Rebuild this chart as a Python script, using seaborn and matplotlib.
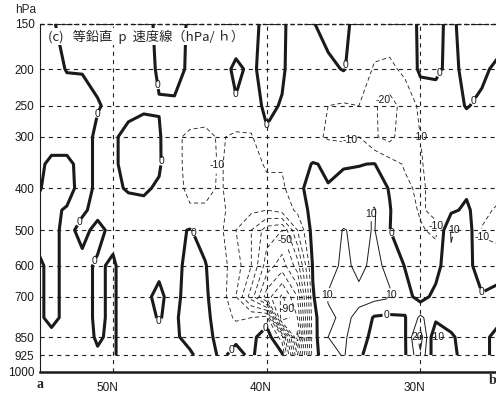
#!/usr/bin/env python3
"""
Vertical p-velocity cross-section (a-b), hPa/h
"""

import numpy as np
import seaborn as sns
import matplotlib.pyplot as plt
import matplotlib.transforms as mtransforms

# latitude of each grid column along the a-b section
lats = [55, 54, 53, 52, 51, 50, 49, 48, 47, 46, 45, 44, 43, 42, 41, 40,
        39, 38, 37, 36, 35, 34, 33, 32, 31, 30, 29, 28, 27, 26, 25]
plev = [150, 200, 250, 300, 350, 400, 450, 500, 600, 700, 775, 850, 925]

# omega (hPa/h), one list per pressure level
w150 = [3, 1, -3, -3, -3, -3, -3, -3, 2, 3, -1, -3, -3, -3, -2, 2, 1, -3, -0.5, 3, 2, -3, -5, -5, -3, 1, 1, -1, 2, 3, 3]
w200 = [3, 2, -0.3, -0.3, -1, -3, -3, -3, 1, 2, -1, -3, -2, 1, -1, 2, 1, -4, -3, -2, 0.5, -4, -11, -12, -8, 2, 1.5, -2, 2, 1, -1]
w250 = [3, 3, 3, 2, 0.3, -1, -2, -1, -0.5, -0.8, -4, -6, -7, -0.5, -3, 1.5, -0.5, -6, -8, -10, -11, -10, -19, -24, -16, -8, -4, -2, 0.3, -1, -2]
w300 = [3, 3, 3, 2, -1, -1, 2, 3, 1, -8, -12, -12, -9, -12, -11, -1, -5, -8, -8, -11, -12, -10, -19, -23, -14, -10, -6, -4, -3, -3, -3]
w350 = [2, -1.5, -1.5, 2, -1, -1, 2, 3, 1, -7, -13, -13, -9, -15, -13, -9, -9, -4, 0.5, -1, -0.5, -0.3, 0.3, -6, -11, -11, -5, -3, -2, -3, -3]
w400 = [1, -2, -2, 2, -1, -1, 0.5, 1, -1, -7, -12, -12, -9, -15, -14, -12, -12, -2, 3, 0.3, 2, 3, 4, -0.5, -8, -12, -6, -3, -2, -4, -4]
w450 = [-1, -1, 0.5, 0.5, -1, -1, -2, -2, -2, -5, -9, -9, -8, -14, -18, -20, -16, -8, 4, 4, 5, 6, 11, 0.5, -6, -11, -8, -2, 2, -6, -12]
w500 = [-1, -1, 1, -1, 1, -1, -2, -2, -2, -2, 0.5, -3, -8, -20, -30, -45, -50, -20, 4, 5, 10.5, 8, 10.5, 0.3, -8, -9, -12, 11, 6, -11, -14]
w600 = [1, -1, 1, 1, -0.5, 0.5, -2, -1, -1, -2, 2, 0.5, -6, -15, -30, -55, -65, -45, 1, 6, 12, 8, 12, 8, -0.5, -6, -4, 8, 4, -6, -3]
w700 = [1, -1, 1, 1, -0.5, 0.5, -2, -1, 1, -2, 3, 1, -4, -20, -45, -75, -92, -70, -1, 11, 14, 12, 13, 11, 4, -4, 3, 6, 1, 1, 2]
w775 = [1, -1, 1, 1, -0.5, 0.5, -2, -1, 0.2, -1, 3, 1.5, -3, -12, -10, -5, -100, -80, -3, 8, 12, 8, -1, -2, -0.5, 12, 3, 3, 1, 1, 1]
w850 = [1, 1, 1, 1, -0.3, 0.5, -2, -1, -1, -1, 2, 2, -2, -1, -3, 6, -15, -95, -4, 10, 12, 3, -2, -3, -1, 25, -11, -1, 3, 1, -1]
w925 = [1, 1, 1, 1, 0.3, 0.5, -2, -1, -1, -2, -1, 3, -1, 1.5, -1, 4, 2, -70, -3, 5, 11, 1, -3, -4, -1, 18, -8, -2, 3, 1, -1]

ytick_vals = [150, 200, 250, 300, 400, 500, 600, 700, 850, 925, 1000]
xtick_vals = [50, 40, 30]
xtick_labels = ['50N', '40N', '30N']
title = '(c)   等鉛直  p  速度線（hPa/ ｈ）'


def to_h(p):
    # standard-atmosphere height-like coordinate
    return np.power(np.clip(p, 1.0, None) / 1013.25, 0.1903)


def from_h(h):
    return 1013.25 * np.power(np.clip(h, 1e-6, None), 1 / 0.1903)


def label(ax, cs, spots):
    texts = ax.clabel(cs, manual=spots, fmt='%d', fontsize=7.5, inline=True, inline_spacing=1)
    for t in texts:
        t.set_rotation(0)


def main():
    sns.set_theme(style='white')
    plt.rcParams['font.family'] = ['Liberation Sans', 'DejaVu Sans']
    plt.rcParams['lines.scale_dashes'] = False
    plt.rcParams['lines.dashed_pattern'] = [3, 2]

    W = np.array([w150, w200, w250, w300, w350, w400, w450,
                  w500, w600, w700, w775, w850, w925])

    fig = plt.figure(figsize=(4.96, 3.95), dpi=100)
    ax = fig.add_axes([40 / 496, 23 / 395, 456 / 496, 348 / 395])
    ax.set_yscale('function', functions=(to_h, from_h))
    ax.set_ylim(1000, 150)
    ax.set_xlim(54.75, 25.08)

    # dashed grid
    grid_kw = dict(color='#222222', lw=0.8, ls=(0, (3, 3)), zorder=1)
    for p in ytick_vals[:-1]:
        ax.axhline(p, **grid_kw)
    for x in xtick_vals:
        ax.axvline(x, **grid_kw)

    neg = ax.contour(lats, plev, W, levels=[-100, -90, -80, -70, -60, -50, -40, -30, -20, -10],
                     colors='k', linewidths=0.6, linestyles='dashed', zorder=2)
    pos10 = ax.contour(lats, plev, W, levels=[10], colors='k', linewidths=0.7, zorder=2)
    pos20 = ax.contour(lats, plev, W, levels=[20], colors='k', linewidths=0.7, zorder=2)
    zero = ax.contour(lats, plev, W, levels=[0], colors='k', linewidths=2.2, zorder=3)

    label(ax, zero, [(52.6, 470), (46.8, 220), (42.0, 240), (39.9, 295), (34.8, 195),
                     (29.2, 200), (26.4, 245), (46.7, 345), (51.5, 580), (45.0, 510),
                     (47.3, 800), (42.5, 890), (40.3, 800), (32.1, 510), (32.3, 720),
                     (26.4, 690), (51.4, 260)])
    label(ax, neg, [(44.3, 350), (34.9, 280), (29.6, 300), (28.9, 490), (26.4, 520),
                    (28.7, 850), (32.1, 250), (39.1, 530), (38.5, 740)])
    label(ax, pos10, [(33.1, 460), (31.5, 690), (36.3, 690), (27.7, 495)])
    label(ax, pos20, [(30.4, 850)])

    # frame: dashed top, no right side, heavy bottom
    ax.spines['top'].set_visible(False)
    ax.spines['right'].set_visible(False)
    ax.spines['left'].set_color('k')
    ax.spines['left'].set_linewidth(0.8)
    ax.spines['bottom'].set_color('k')
    ax.spines['bottom'].set_linewidth(1.8)
    ax.axhline(150, color='k', lw=1.0, ls=(0, (3, 2)), zorder=4, clip_on=False)

    ax.set_yticks(ytick_vals)
    ax.set_yticklabels([str(v) for v in ytick_vals], fontsize=8.5)
    ax.set_xticks(xtick_vals)
    ax.set_xticklabels(xtick_labels, fontsize=8.5)
    ax.tick_params(axis='both', length=0, colors='k')
    ax.tick_params(axis='y', pad=4)
    ax.tick_params(axis='x', pad=7)
    shift = mtransforms.ScaledTranslation(-6 / 100, 0, fig.dpi_scale_trans)
    for t in ax.get_xticklabels():
        t.set_transform(t.get_transform() + shift)
    ax.minorticks_off()

    ax.text(0.0175, 0.963, title, transform=ax.transAxes, ha='left', va='center',
            fontsize=9.5, family=['Noto Sans CJK JP', 'DejaVu Sans'], zorder=5,
            bbox=dict(facecolor='white', edgecolor='none', pad=1.0))
    fig.text(26 / 496, 1 - 10 / 395, 'hPa', ha='center', va='center', fontsize=8.5)
    fig.text(40 / 496, 1 - 384 / 395, 'a', ha='center', va='center', fontsize=10,
             family='Liberation Serif', weight='bold')
    fig.text(493 / 496, 1 - 381 / 395, 'b', ha='center', va='center', fontsize=10,
             family='Liberation Serif', weight='bold')

    fig.savefig('out.png', dpi=100, facecolor='white')


if __name__ == '__main__':
    main()
